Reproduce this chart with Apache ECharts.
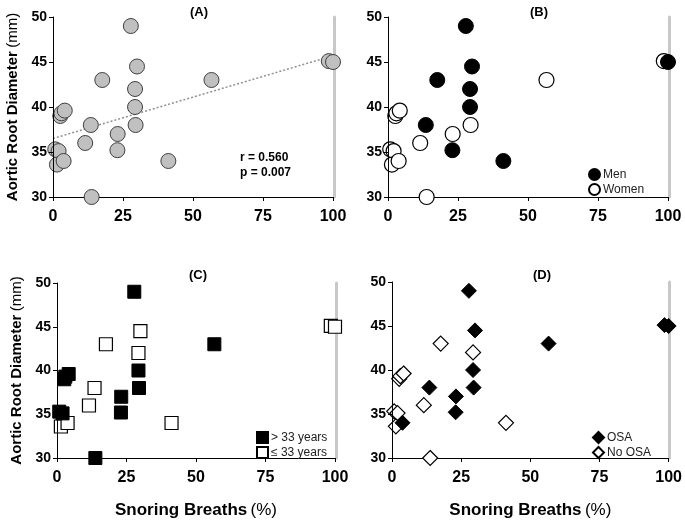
<!doctype html>
<html>
<head>
<meta charset="utf-8">
<title>Aortic root diameter vs snoring breaths</title>
<script src="https://cdn.jsdelivr.net/npm/echarts@6/dist/echarts.min.js"></script>
<style>
html,body{margin:0;padding:0;background:#fff;}
#chart{width:685px;height:520px;}
</style>
</head>
<body>
<div id="chart"></div>
<script>
// snoring breaths (%) and aortic root diameter (mm), one entry per subject
var snoring = [27.8, 30.0, 17.6, 56.6, 29.3, 29.3, 29.5, 13.5, 23.1, 23.0, 11.5, 13.8, 41.2, 2.6, 3.0, 4.2, 0.8, 2.0, 1.4, 3.8, 98.5, 100];
var aortic  = [49.0, 44.5, 43.0, 43.0, 42.0, 40.0, 38.0, 38.0, 37.0, 35.2, 36.0, 30.0, 34.0, 39.0, 39.3, 39.6, 35.3, 35.1, 33.6, 34.0, 45.1, 45.0];
var sex     = ['M','M','M','W','M','M','W','M','W','M','W','W','M','W','W','W','W','W','W','W','W','M'];
var ageOld  = [1,0,0,1,0,1,1,0,1,1,0,1,0,1,1,1,1,1,0,0,0,0];   // 1 = > 33 years
var osa     = [1,1,0,1,0,1,1,1,1,1,0,0,0,0,0,0,0,0,0,1,1,1];
var trendX = [0, 100];
var trendY = [36.5, 45.7];
var xTicks = [0, 25, 50, 75, 100];
var yTicks = [30, 35, 40, 45, 50];

function pts(flags, want){
	var out = [];
	for(var i=0;i<snoring.length;i++){
		if(flags == null || flags[i] === want){
			out.push([snoring[i], aortic[i]]);
		}
	}
	return out;
}

var FONT = 'Liberation Sans, Arial, sans-serif';
var grids = [
	{left:53, top:17, width:280, height:180},
	{left:388, top:17, width:280, height:180},
	{left:57, top:283, width:278, height:180},
	{left:392, top:282, width:278, height:181}
];

var xAxes = [], yAxes = [];
for(var g=0; g<4; g++){
	xAxes.push({
		gridIndex:g, type:'value', position:'bottom', min:xTicks[0], max:xTicks[xTicks.length-1], interval:25,
		axisLine:{show:true, onZero:false, lineStyle:{color:'#000', width:1}},
		axisTick:{show:true, length:4, lineStyle:{color:'#000'}},
		axisLabel:{color:'#000', fontFamily:FONT, fontWeight:'bold', fontSize:16, margin:12},
		splitLine:{show:false},
		name: g >= 2 ? '{b|Snoring Breaths} {n|(%)}' : '',
		nameLocation:'middle', nameGap:44,
		nameTextStyle:{rich:{
			b:{fontFamily:FONT, fontWeight:'bold', fontSize:17, color:'#000'},
			n:{fontFamily:FONT, fontSize:17, color:'#000'}
		}}
	});
	yAxes.push({
		gridIndex:g, type:'value', position:'left', min:yTicks[0], max:yTicks[yTicks.length-1], interval:5,
		axisLine:{show:true, onZero:false, lineStyle:{color:'#000', width:1}},
		axisTick:{show:true, length:4, lineStyle:{color:'#000'}},
		axisLabel:{color:'#000', fontFamily:FONT, fontWeight:'bold', fontSize:14, margin:6},
		splitLine:{show:false},
		name: (g % 2 === 0) ? '{b|Aortic Root Diameter} {n|(mm)}' : '',
		nameLocation:'middle', nameGap:33,
		nameTextStyle:{rich:{
			b:{fontFamily:FONT, fontWeight:'bold', fontSize:15, color:'#000'},
			n:{fontFamily:FONT, fontSize:15, color:'#000'}
		}},
		z:5
	});
}
// grey shadow on the right edge of each plot
for(var g2=0; g2<4; g2++){
	yAxes.push({
		gridIndex:g2, type:'value', position:'right', offset:1, min:30, max:50,
		axisLine:{show:true, onZero:false, lineStyle:{color:'#c8c8c8', width:3}},
		axisTick:{show:false}, axisLabel:{show:false}, splitLine:{show:false}
	});
}

var openStyle = {color:'#fff', borderColor:'#000', borderWidth:1.2, opacity:1};
var fillStyle = {color:'#000', borderColor:'#000', borderWidth:1, opacity:1};

var series = [
	{type:'line', xAxisIndex:0, yAxisIndex:0, data:trendX.map(function(x,i){return [x, trendY[i]];}),
		symbol:'none', silent:true, lineStyle:{color:'#909090', width:1.5, type:[2,2]}, z:1},
	{name:'all', type:'scatter', xAxisIndex:0, yAxisIndex:0, data:pts(null), symbol:'circle', symbolSize:15,
		itemStyle:{color:'#c0c0c0', borderColor:'#404040', borderWidth:1, opacity:1}},
	{name:'Women', type:'scatter', xAxisIndex:1, yAxisIndex:1, data:pts(sex,'W'), symbol:'circle', symbolSize:15, itemStyle:openStyle},
	{name:'Men', type:'scatter', xAxisIndex:1, yAxisIndex:1, data:pts(sex,'M'), symbol:'circle', symbolSize:15, itemStyle:fillStyle},
	{name:'≤ 33 years', type:'scatter', xAxisIndex:2, yAxisIndex:2, data:pts(ageOld,0), symbol:'rect', symbolSize:13, itemStyle:openStyle},
	{name:'> 33 years', type:'scatter', xAxisIndex:2, yAxisIndex:2, data:pts(ageOld,1), symbol:'rect', symbolSize:13, itemStyle:fillStyle},
	{name:'No OSA', type:'scatter', xAxisIndex:3, yAxisIndex:3, data:pts(osa,0), symbol:'diamond', symbolSize:15, itemStyle:openStyle},
	{name:'OSA', type:'scatter', xAxisIndex:3, yAxisIndex:3, data:pts(osa,1), symbol:'diamond', symbolSize:15, itemStyle:fillStyle}
];

function legendAt(left, top, names){
	return {
		orient:'vertical', left:left, top:top, itemGap:2, itemWidth:11, itemHeight:11,
		selectedMode:false, data:names,
		textStyle:{fontFamily:FONT, fontSize:12, color:'#222', padding:[0,0,0,-2]}
	};
}

var titleStyle = {fontFamily:FONT, fontWeight:'bold', fontSize:13, color:'#000'};
var option = {
	animation:false,
	backgroundColor:'#fff',
	title:[
		{text:'(A)', left:185, top:1, textStyle:titleStyle},
		{text:'(B)', left:525, top:1, textStyle:titleStyle},
		{text:'(C)', left:184, top:264, textStyle:titleStyle},
		{text:'(D)', left:528, top:264, textStyle:titleStyle}
	],
	legend:[
		legendAt(583, 163, ['Men','Women']),
		legendAt(251, 426, ['> 33 years','≤ 33 years']),
		legendAt(587, 426, ['OSA','No OSA'])
	],
	grid:grids,
	xAxis:xAxes,
	yAxis:yAxes,
	graphic:[
		{type:'text', left:240, top:150, style:{text:'r = 0.560\np = 0.007', font:'bold 12px Liberation Sans, Arial, sans-serif', fill:'#000', lineHeight:15}}
	],
	series:series
};
echarts.init(document.getElementById('chart')).setOption(option);
</script>
</body>
</html>
